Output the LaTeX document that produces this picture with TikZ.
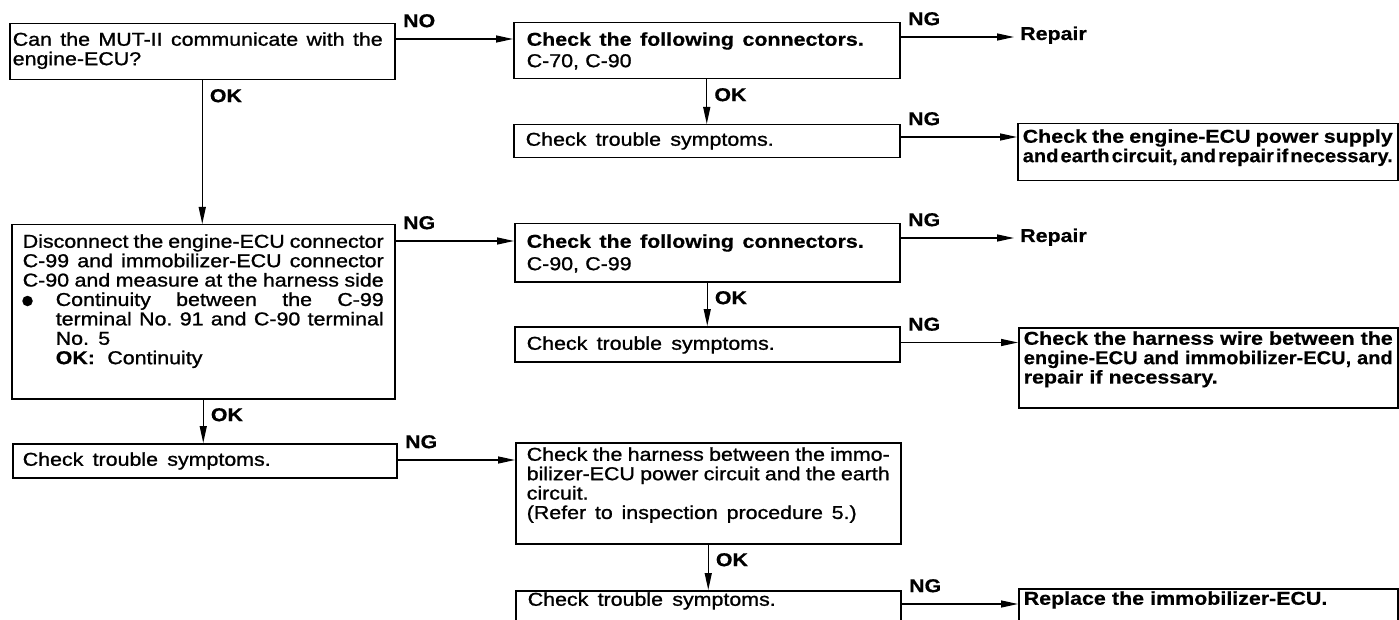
\documentclass[tikz,border=0pt]{standalone}
\usepackage{fontspec}
\setmainfont{Liberation Sans}[FakeStretch=1.15,WordSpace={1.5,1.5,2.5},UprightFeatures={FakeBold=1.1},BoldFeatures={FakeBold=0.5}]
\newfontfamily\narrowfont{Liberation Sans}[FakeStretch=1.08,BoldFeatures={FakeBold=0.5}]
\usetikzlibrary{arrows.meta}
\newcommand\myfs{\fontsize{18.6}{19.4}\selectfont\lineskiplimit=-20pt\lineskip=0pt}
% a justified line of given width
\newcommand\jl[2]{\makebox[#1][s]{\spaceskip=0.3em plus 20em minus 0.3em\relax\xspaceskip=\spaceskip #2}}
\begin{document}
\begin{tikzpicture}[x=1pt,y=1pt,
  box/.style={draw, line width=1.5pt, anchor=north west, inner ysep=0pt, align=left, font=\myfs},
  arr/.style={line width=1.3pt, -{Triangle[length=17pt,width=7pt]}},
  lbl/.style={font=\myfs\bfseries, inner sep=0pt},
  nglbl/.style={lbl, at start, anchor=south west, xshift=7pt, yshift=11pt},
  oklbl/.style={lbl, at start, anchor=north west, xshift=7pt, yshift=-8pt},
  dot/.style={circle, fill, inner sep=0pt, minimum size=10.5pt}]
\useasboundingbox (0,0) rectangle (1399,-620);
\clip (0,0) rectangle (1399,-620);
% levels of horizontal connectors
\coordinate (h1) at (0,-39);
\coordinate (h2) at (0,-37);
\coordinate (h3) at (0,-137);
\coordinate (h4) at (0,-241);
\coordinate (h5) at (0,-238);
\coordinate (h6) at (0,-342.5);
\coordinate (h7) at (0,-460);
\coordinate (h8) at (0,-604);
% boxes
\node[box, minimum width=385pt, text width=379pt, inner xsep=3pt, text height=22pt, text depth=34pt] (A) at (9,-23)
  {\jl{370pt}{Can the MUT-II communicate with the}\\engine-ECU?};
\node[box, minimum width=386pt, text width=360pt, inner xsep=13pt, text height=23pt, text depth=33pt] (B1) at (513,-22)
  {\jl{337pt}{\bfseries Check the following connectors.}\\[2pt]C-70, C-90};
\node[box, minimum width=386pt, text width=362pt, inner xsep=12pt, text height=21pt, text depth=12pt] (C1) at (513,-124)
  {\jl{248pt}{Check trouble symptoms.}};
\node[box, minimum width=380pt, text width=370pt, inner xsep=5pt, text height=19pt, text depth=38pt, font=\myfs\bfseries] (D1) at (1017,-123)
  {\jl{370pt}{Check the engine-ECU power supply}\\\jl{370pt}{\narrowfont\bfseries and earth circuit, and repair if necessary.}};
\node[box, minimum width=383pt, text width=361pt, inner xsep=11pt, text height=23pt, text depth=151pt] (A2) at (11,-224)
  {\jl{361pt}{Disconnect the engine-ECU connector}\\
   \jl{361pt}{C-99 and immobilizer-ECU connector}\\
   \jl{361pt}{C-90 and measure at the harness side}\\
   \hspace*{33pt}\jl{328pt}{Continuity between the C-99}\\
   \hspace*{33pt}\jl{328pt}{terminal No. 91 and C-90 terminal}\\
   \hspace*{33pt}No. 5\\
   \hspace*{33pt}\textbf{OK:}\ \ Continuity};
\node[dot] (bullet) at ([xshift=16.5pt,yshift=-77pt]A2.north west) {};
\node[box, minimum width=385pt, text width=361pt, inner xsep=12pt, text height=24pt, text depth=34pt] (B2) at (514,-223)
  {\jl{337pt}{\bfseries Check the following connectors.}\\[3pt]C-90, C-99};
\node[box, minimum width=385pt, text width=361pt, inner xsep=12pt, text height=23pt, text depth=12pt] (C2) at (514,-326)
  {\jl{248pt}{Check trouble symptoms.}};
\node[box, minimum width=379pt, text width=369pt, inner xsep=5pt, text height=17pt, text depth=63pt, font=\myfs\bfseries] (D2) at (1018,-327)
  {\jl{369pt}{Check the harness wire between the}\\\jl{369pt}{\narrowfont\bfseries engine-ECU and immobilizer-ECU, and}\\repair if necessary.};
\node[box, minimum width=384pt, text width=364pt, inner xsep=10pt, text height=22pt, text depth=12pt] (A3) at (12,-443)
  {\jl{248pt}{Check trouble symptoms.}};
\node[box, minimum width=385pt, text width=363pt, inner xsep=11pt, text height=18pt, text depth=83pt] (B3) at (515,-442)
  {\jl{363pt}{Check the harness between the immo-}\\\jl{363pt}{bilizer-ECU power circuit and the earth}\\circuit.\\\jl{330pt}{(Refer to inspection procedure 5.)}};
\node[box, minimum width=385pt, text width=361pt, inner xsep=12pt, text height=15pt, text depth=35pt] (C3) at (515,-590)
  {\jl{248pt}{Check trouble symptoms.}};
\node[box, minimum width=379pt, text width=369pt, inner xsep=5pt, text height=16pt, text depth=37pt, font=\myfs\bfseries] (D3) at (1018,-588)
  {Replace the immobilizer-ECU.};
\node[lbl, anchor=base west, inner xsep=6pt] (R1) at (1014,-40) {Repair};
\node[lbl, anchor=base west, inner xsep=6pt] (R2) at (1014,-242) {Repair};
% connectors
\draw[arr] (A.east |- h1) -- node[nglbl]{NO} (B1.west |- h1);
\draw[arr] (B1.east |- h2) -- node[nglbl]{NG} (R1.west |- h2);
\draw[arr] (B1.south) -- node[oklbl]{OK} (B1.south |- C1.north);
\draw[arr] (C1.east |- h3) -- node[nglbl]{NG} (D1.west |- h3);
\draw[arr] (A.south) -- node[oklbl]{OK} (A.south |- A2.north);
\draw[arr] (A2.east |- h4) -- node[nglbl]{NG} (B2.west |- h4);
\draw[arr] (B2.east |- h5) -- node[nglbl]{NG} (R2.west |- h5);
\draw[arr] (B2.south) -- node[oklbl]{OK} (B2.south |- C2.north);
\draw[arr] (C2.east |- h6) -- node[nglbl]{NG} (D2.west |- h6);
\draw[arr] (A2.south) -- node[oklbl]{OK} (A2.south |- A3.north);
\draw[arr] (A3.east |- h7) -- node[nglbl]{NG} (B3.west |- h7);
\draw[arr] (B3.south) -- node[oklbl]{OK} (B3.south |- C3.north);
\draw[arr] (C3.east |- h8) -- node[nglbl]{NG} (D3.west |- h8);
\end{tikzpicture}
\end{document}
